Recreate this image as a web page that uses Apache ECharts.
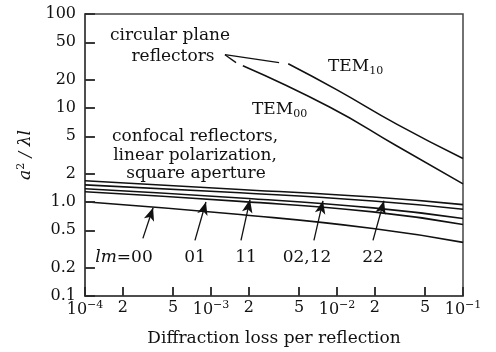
<!DOCTYPE html>
<html>
<head>
<meta charset="utf-8">
<script src="https://cdn.jsdelivr.net/npm/echarts@6/dist/echarts.min.js"></script>
<style>
  html, body { margin: 0; padding: 0; background: #fff; }
  #main { width: 496px; height: 352px; }
</style>
</head>
<body>
<div id="main"></div>
<script>
// tick values and labels (log axes drawn as value axes in log10 space)
var xTicks = [1e-4, 2e-4, 5e-4, 1e-3, 2e-3, 5e-3, 1e-2, 2e-2, 5e-2, 1e-1];
var xTickLabels = ['10{sup|−4}', '2', '5', '10{sup|−3}', '2', '5', '10{sup|−2}', '2', '5', '10{sup|−1}'];
var yTicks = [0.1, 0.2, 0.5, 1, 2, 5, 10, 20, 50, 100];
var yTickLabels = ['0.1', '0.2', '0.5', '1.0', '2', '5', '10', '20', '50', '100'];

// circular plane reflectors  [loss, a^2/(lambda l)]
var tem00 = [[1.79e-3, 28.2], [8.8e-3, 10.2], [0.0299, 3.94], [0.1, 1.56]];
var tem10 = [[4.1e-3, 29.6], [0.01, 15.6], [0.03, 6.7], [0.1, 2.9]];

// confocal reflectors, square aperture
var lossX = [1e-4, 1.7e-3, 0.0193, 0.1];
var lm22 = [1.68, 1.36, 1.13, 0.937];
var lm0212 = [1.52, 1.255, 1.025, 0.836];
var lm11 = [1.383, 1.103, 0.865, 0.667];
var lm01 = [1.285, 1.016, 0.785, 0.576];
var lm00 = [1.008, 0.735, 0.523, 0.372];

// pointer arrows: [tail, tip]
var arrows = [
  [[2.88e-4, 0.41], [3.47e-4, 0.87]],
  [[7.46e-4, 0.39], [9.12e-4, 1.0]],
  [[1.73e-3, 0.39], [2.04e-3, 1.06]],
  [[6.56e-3, 0.39], [7.74e-3, 1.03]],
  [[0.0193, 0.39], [0.0236, 1.03]]
];
// lines from "reflectors" label to the TEM curves
var pointers = [
  [[1.29e-3, 36.9], [3.47e-3, 30.4]],
  [[1.29e-3, 36.9], [1.58e-3, 30.4]]
];

var lg = Math.log10;
var FONT = 'DejaVu Serif';
var INK = '#111';
// inner tick length, in decades
var TICK_X = 0.075, TICK_Y = 0.095;

function pickLabel(vals, labels, v) {
  for (var i = 0; i < vals.length; i++) {
    if (Math.abs(lg(vals[i]) - v) < 1e-6) return labels[i];
  }
  return '';
}
function toLog(pts) {
  return pts.map(function (p) { return [lg(p[0]), lg(p[1])]; });
}
function zipLog(ys) {
  return ys.map(function (y, i) { return [lg(lossX[i]), lg(y)]; });
}
function curve(name, data) {
  return {
    name: name,
    type: 'line',
    data: data,
    smooth: 0.5,
    showSymbol: false,
    silent: true,
    lineStyle: { color: INK, width: 1.6 },
    animation: false
  };
}
function segs(list, withArrow) {
  return list.map(function (s) {
    return [
      { coord: [lg(s[0][0]), lg(s[0][1])], symbol: 'none' },
      { coord: [lg(s[1][0]), lg(s[1][1])], symbol: withArrow ? 'arrow' : 'none', symbolSize: [8, 13] }
    ];
  });
}
// inner tick marks along the bottom and left frame
function tickSegs() {
  var out = [];
  xTicks.slice(1, -1).forEach(function (v) {
    out.push([{ coord: [lg(v), -1], symbol: 'none' }, { coord: [lg(v), -1 + TICK_Y], symbol: 'none' }]);
  });
  yTicks.slice(1, -1).forEach(function (v) {
    out.push([{ coord: [-4, lg(v)], symbol: 'none' }, { coord: [-4 + TICK_X, lg(v)], symbol: 'none' }]);
  });
  return out;
}

var myChart = echarts.init(document.getElementById('main'));
myChart.setOption({
  animation: false,
  textStyle: { fontFamily: FONT, color: INK },
  grid: {
    left: 85, right: 33, top: 14, bottom: 54,
    show: true, borderColor: '#444', borderWidth: 1.5
  },
  xAxis: {
    type: 'value',
    min: -4, max: -1,
    name: 'Diffraction loss per reflection',
    nameLocation: 'middle',
    nameGap: 34,
    nameTextStyle: { fontFamily: FONT, fontSize: 17, color: INK },
    axisLine: { show: true, onZero: false, lineStyle: { color: '#444', width: 1.5 } },
    axisTick: {
      show: true, inside: true, length: 9,
      customValues: xTicks.map(lg),
      lineStyle: { color: '#222', width: 1.6 }
    },
    axisLabel: {
      customValues: xTicks.map(lg),
      margin: 4,
      fontFamily: FONT, fontSize: 16, color: INK,
      formatter: function (v) { return pickLabel(xTicks, xTickLabels, v); },
      rich: {
        sup: { fontSize: 11, fontFamily: FONT, color: INK, verticalAlign: 'bottom', padding: [0, 0, 9, 0] }
      }
    },
    splitLine: { show: false }
  },
  yAxis: {
    type: 'value',
    min: -1, max: 2,
    name: '{it|a}{sup|2}{it| / λl}',
    nameLocation: 'middle',
    nameGap: 48,
    nameRotate: 90,
    nameTextStyle: {
      fontFamily: FONT, fontSize: 17, color: INK,
      rich: {
        it: { fontStyle: 'italic', fontFamily: FONT, fontSize: 17, color: INK },
        sup: { fontSize: 11, fontFamily: FONT, color: INK, verticalAlign: 'bottom', padding: [0, 0, 9, 0] }
      }
    },
    axisLine: { show: true, onZero: false, lineStyle: { color: '#444', width: 1.5 } },
    axisTick: {
      show: true, inside: true, length: 10,
      customValues: yTicks.map(lg),
      lineStyle: { color: '#222', width: 1.6 }
    },
    axisLabel: {
      customValues: yTicks.map(lg),
      margin: 9,
      fontFamily: FONT, fontSize: 16, color: INK,
      formatter: function (v) { return pickLabel(yTicks, yTickLabels, v); }
    },
    splitLine: { show: false }
  },
  series: [
    curve('TEM00', toLog(tem00)),
    curve('TEM10', toLog(tem10)),
    curve('22', zipLog(lm22)),
    curve('02,12', zipLog(lm0212)),
    curve('11', zipLog(lm11)),
    curve('01', zipLog(lm01)),
    curve('00', zipLog(lm00)),
    {
      type: 'line',
      data: [],
      silent: true,
      markLine: {
        silent: true,
        animation: false,
        label: { show: false },
        lineStyle: { color: INK, width: 1.3, type: 'solid' },
        emphasis: { disabled: true },
        data: segs(arrows, true).concat(segs(pointers, false))
      }
    },
    {
      type: 'line',
      data: [],
      silent: true,
      markLine: {
        silent: true,
        animation: false,
        symbol: 'none',
        label: { show: false },
        lineStyle: { color: '#333', width: 1.5, type: 'solid' },
        emphasis: { disabled: true },
        data: tickSegs()
      }
    }
  ],
  graphic: [
    { type: 'text', x: 170, y: 36, style: { text: 'circular plane', font: '17px "DejaVu Serif"', fill: INK, align: 'center', verticalAlign: 'middle' } },
    { type: 'text', x: 173, y: 57, style: { text: 'reflectors', font: '17px "DejaVu Serif"', fill: INK, align: 'center', verticalAlign: 'middle' } },
    { type: 'text', x: 328, y: 67, style: { text: 'TEM{sub|10}', font: '17px "DejaVu Serif"', fill: INK, align: 'left', verticalAlign: 'middle',
        rich: { sub: { fontSize: 11, fontFamily: FONT, fill: INK, verticalAlign: 'top', padding: [8, 0, 0, 0] } } } },
    { type: 'text', x: 252, y: 110, style: { text: 'TEM{sub|00}', font: '17px "DejaVu Serif"', fill: INK, align: 'left', verticalAlign: 'middle',
        rich: { sub: { fontSize: 11, fontFamily: FONT, fill: INK, verticalAlign: 'top', padding: [8, 0, 0, 0] } } } },
    { type: 'text', x: 195, y: 137, style: { text: 'confocal reflectors,', font: '17px "DejaVu Serif"', fill: INK, align: 'center', verticalAlign: 'middle' } },
    { type: 'text', x: 195, y: 156, style: { text: 'linear polarization,', font: '17px "DejaVu Serif"', fill: INK, align: 'center', verticalAlign: 'middle' } },
    { type: 'text', x: 196, y: 174, style: { text: 'square aperture', font: '17px "DejaVu Serif"', fill: INK, align: 'center', verticalAlign: 'middle' } },
    { type: 'text', x: 124, y: 258, style: { text: '{it|lm}=00', font: '17px "DejaVu Serif"', fill: INK, align: 'center', verticalAlign: 'middle',
        rich: { it: { fontStyle: 'italic', fontSize: 17, fontFamily: FONT, fill: INK } } } },
    { type: 'text', x: 195, y: 258, style: { text: '01', font: '17px "DejaVu Serif"', fill: INK, align: 'center', verticalAlign: 'middle' } },
    { type: 'text', x: 246, y: 258, style: { text: '11', font: '17px "DejaVu Serif"', fill: INK, align: 'center', verticalAlign: 'middle' } },
    { type: 'text', x: 307, y: 258, style: { text: '02,12', font: '17px "DejaVu Serif"', fill: INK, align: 'center', verticalAlign: 'middle' } },
    { type: 'text', x: 373, y: 258, style: { text: '22', font: '17px "DejaVu Serif"', fill: INK, align: 'center', verticalAlign: 'middle' } }
  ]
});
window.addEventListener('resize', function () {
  myChart.resize();
});
</script>
</body>
</html>
